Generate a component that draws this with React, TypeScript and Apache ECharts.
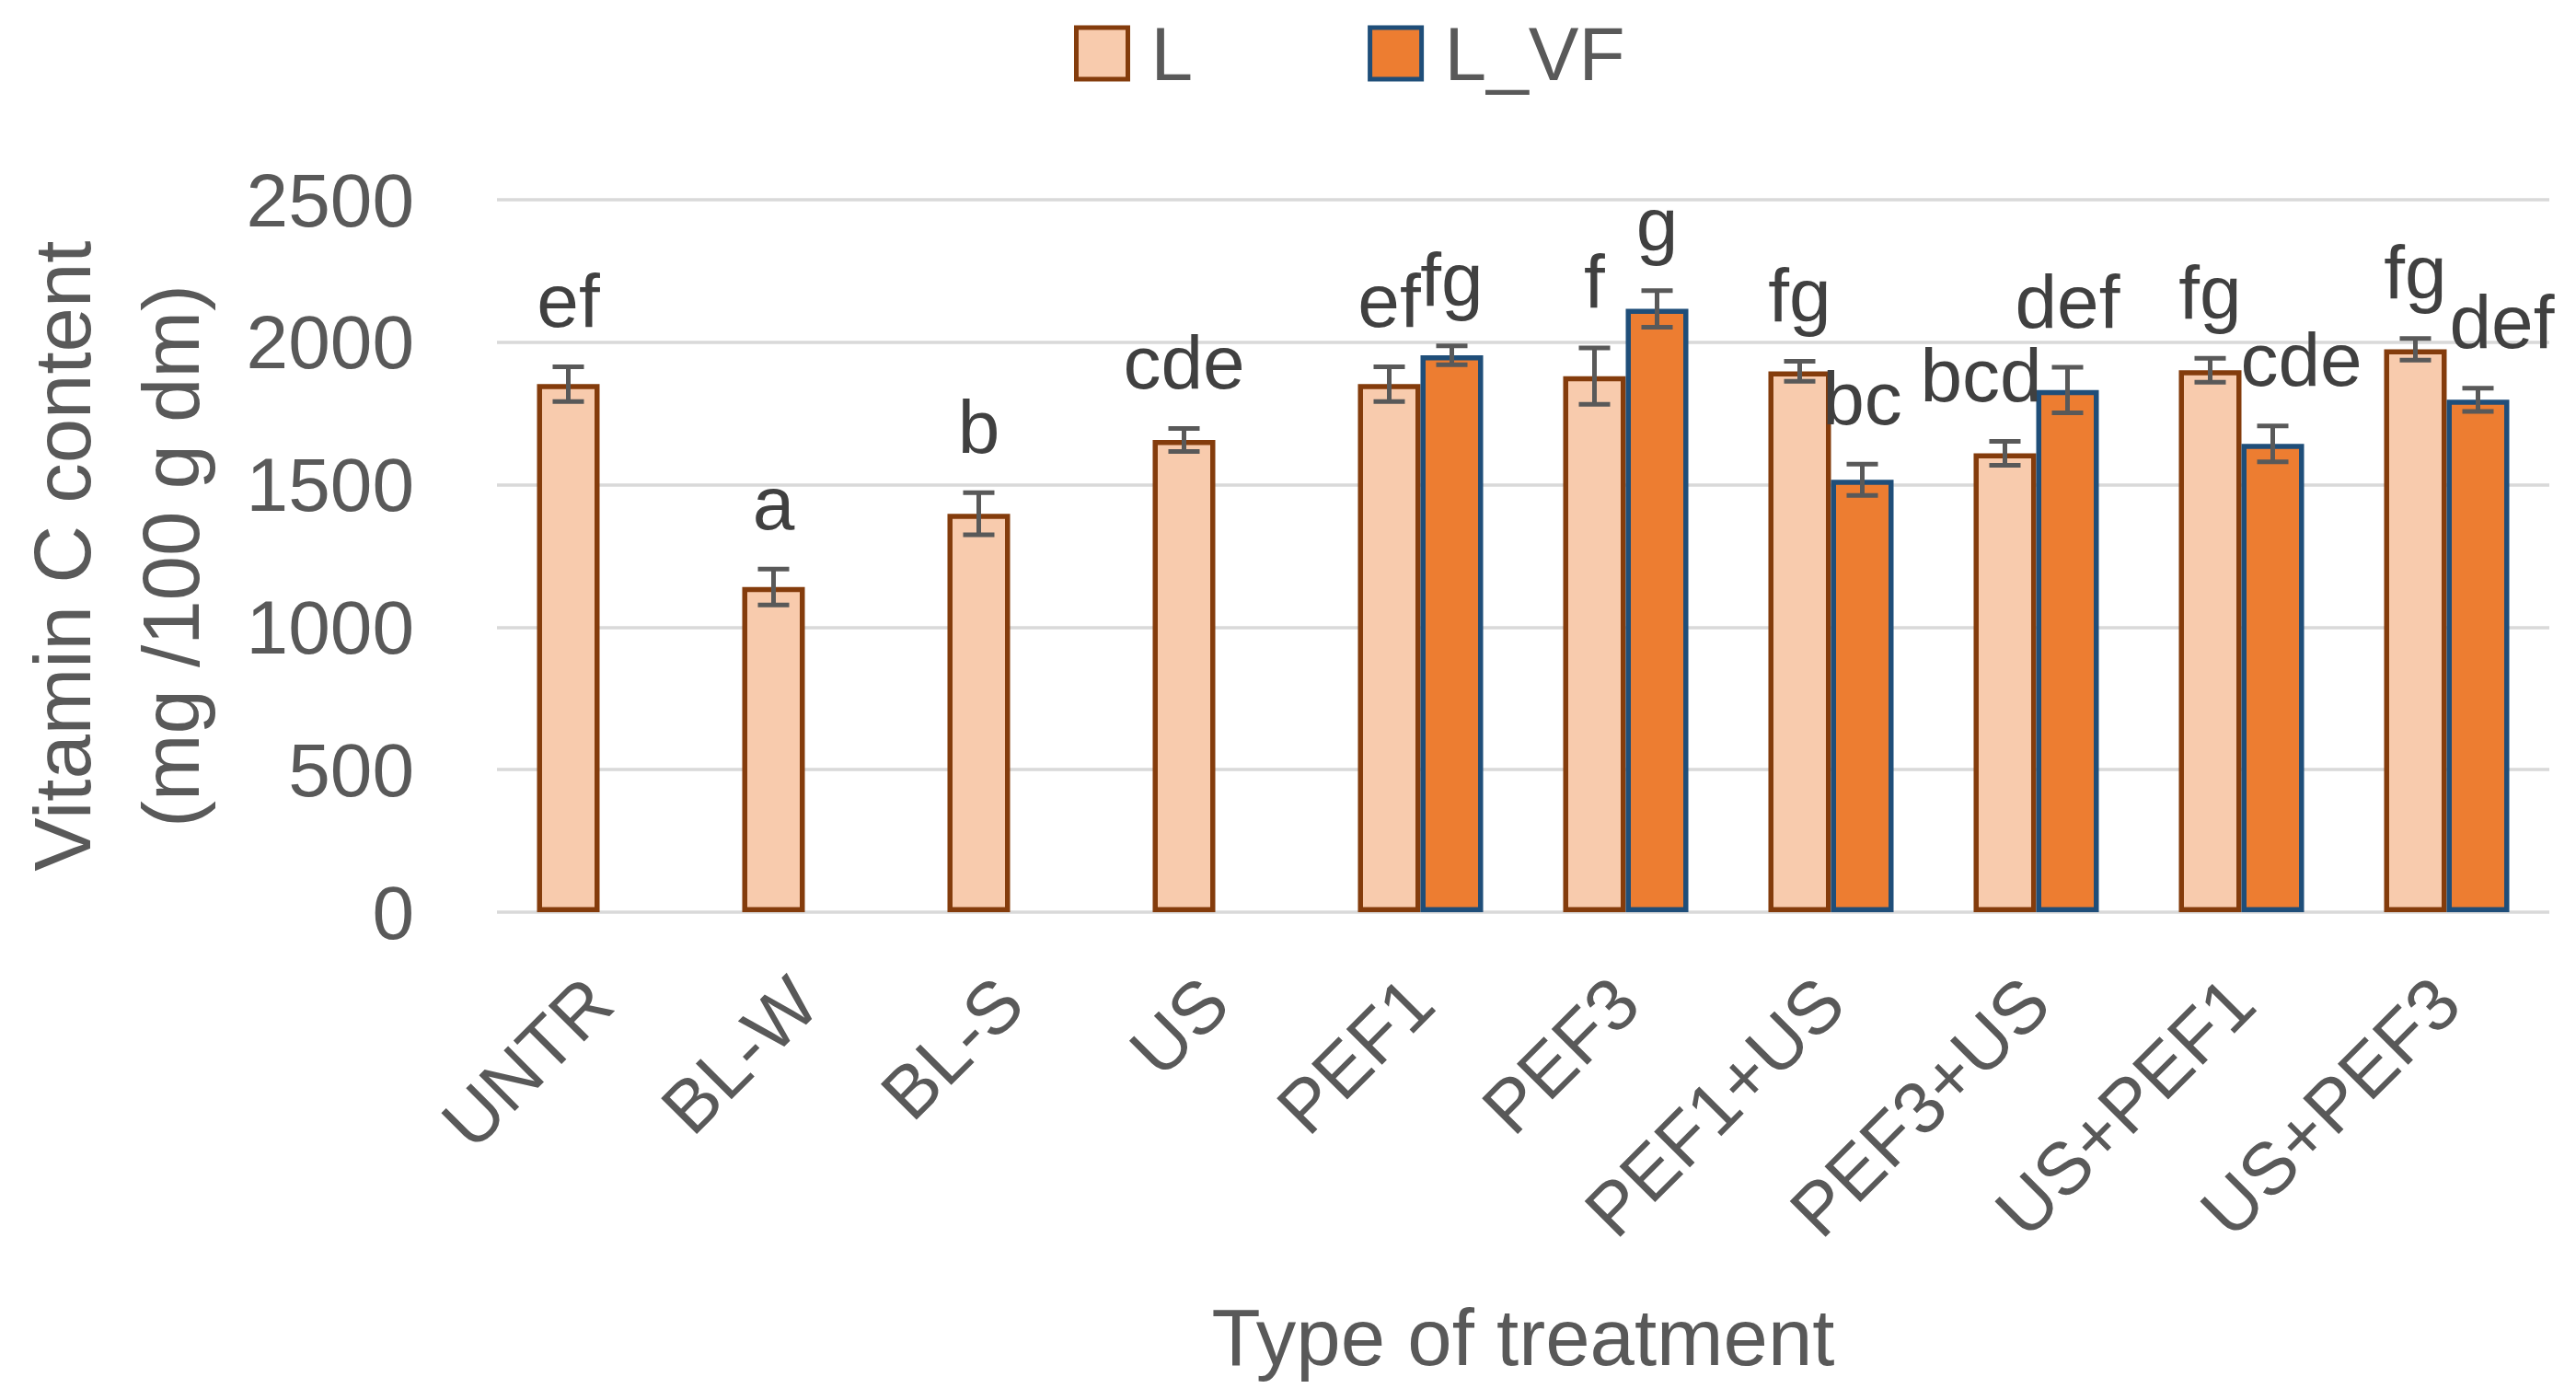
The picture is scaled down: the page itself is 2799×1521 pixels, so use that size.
import React, { useEffect, useRef } from "react";
import * as echarts from "echarts";

const categories = ["UNTR", "BL-W", "BL-S", "US", "PEF1", "PEF3", "PEF1+US", "PEF3+US", "US+PEF1", "US+PEF3"];
const valuesL = [1853, 1141, 1398, 1657, 1853, 1881, 1898, 1610, 1902, 1975];
const errorsL = [61, 63, 74, 40, 61, 99, 35, 42, 42, 38];
const lettersL = ["ef", "a", "b", "cde", "ef", "f", "fg", "bcd", "fg", "fg"];
const valuesVF = [null, null, null, null, 1954, 2117, 1517, 1832, 1643, 1798];
const errorsVF = [null, null, null, null, 33, 64, 55, 80, 63, 41];
const lettersVF = [null, null, null, null, "fg", "g", "bc", "def", "cde", "def"];
const yTicks = { min: 0, max: 2500, interval: 500 };

const FONT = "'Liberation Sans', Arial, sans-serif";
const GAP_RATIO = 0.39;
// small horizontal nudges of letter labels (px), as placed in the original figure
const nudgeL: Record<number, number> = { 7: -26 };
const nudgeVF: Record<number, number> = { 8: 31, 9: 26 };

function errorSeries(
  name: string,
  values: (number | null)[],
  errors: (number | null)[],
  letters: (string | null)[],
  side: number,
  nudge: Record<number, number>
) {
  const data: number[][] = [];
  const lab: string[] = [];
  const dx: number[] = [];
  values.forEach((v, i) => {
    if (v != null && errors[i] != null) {
      data.push([i, v, errors[i] as number]);
      lab.push(letters[i] || "");
      dx.push(nudge[i] || 0);
    }
  });
  return {
    type: "custom",
    name,
    z: 5,
    clip: false,
    silent: true,
    data,
    encode: { x: 0, y: 1 },
    renderItem: (params: any, api: any) => {
      const cat = api.value(0);
      const v = api.value(1);
      const e = api.value(2);
      const band = api.size([1, 0])[0];
      const bw = (band * (1 - GAP_RATIO)) / 2;
      const cx = api.coord([cat, v])[0] + (side * bw) / 2;
      const top = api.coord([cat, v + e])[1];
      const bot = api.coord([cat, v - e])[1];
      const cap = 17;
      const st = { stroke: "#595959", lineWidth: 5 };
      return {
        type: "group",
        children: [
          { type: "line", shape: { x1: cx, y1: top, x2: cx, y2: bot }, style: st },
          { type: "line", shape: { x1: cx - cap, y1: top, x2: cx + cap, y2: top }, style: st },
          { type: "line", shape: { x1: cx - cap, y1: bot, x2: cx + cap, y2: bot }, style: st },
          {
            type: "text",
            x: cx + dx[params.dataIndex],
            y: top - 72,
            style: {
              text: lab[params.dataIndex],
              fill: "#404040",
              fontSize: 82,
              fontFamily: FONT,
              align: "center",
              verticalAlign: "middle",
            },
          },
        ],
      };
    },
  };
}

export default function App() {
  const ref = useRef<HTMLDivElement>(null);
  useEffect(() => {
    if (!ref.current) return;
    const chart = echarts.init(ref.current, undefined, { renderer: "svg" });
    chart.setOption({
      animation: false,
      backgroundColor: "#ffffff",
      textStyle: { fontFamily: FONT },
      legend: {
        top: 12,
        left: 1162,
        itemWidth: 56,
        itemHeight: 56,
        itemGap: 190,
        icon: "rect",
        itemStyle: { borderWidth: 5 },
        textStyle: { fontSize: 82, color: "#595959", fontFamily: FONT, padding: [0, 0, 0, 20] },
        data: ["L", "L_VF"],
      },
      grid: { left: 540, right: 29, top: 217, bottom: 530, containLabel: false },
      xAxis: {
        type: "category",
        data: categories,
        axisLine: { show: false },
        axisTick: { show: false },
        axisLabel: {
          interval: 0,
          rotate: 45,
          margin: 85,
          fontSize: 80,
          color: "#595959",
          fontFamily: FONT,
        },
        name: "Type of treatment",
        nameLocation: "middle",
        nameGap: 418,
        nameTextStyle: { fontSize: 87, color: "#595959", fontFamily: FONT, lineHeight: 87 },
      },
      yAxis: {
        type: "value",
        min: yTicks.min,
        max: yTicks.max,
        interval: yTicks.interval,
        axisLine: { show: false },
        axisTick: { show: false },
        axisLabel: {
          fontSize: 82,
          color: "#595959",
          margin: 90,
          fontFamily: FONT,
          formatter: (v: number) => String(v),
        },
        splitLine: { lineStyle: { color: "#D9D9D9", width: 3.5 } },
        name: "Vitamin C content\n(mg /100 g dm)",
        nameLocation: "middle",
        nameRotate: 90,
        nameGap: 296,
        nameTextStyle: { fontSize: 87, color: "#595959", fontFamily: FONT, lineHeight: 118 },
      },
      series: [
        {
          type: "bar",
          name: "L",
          data: valuesL,
          barGap: "0%",
          barCategoryGap: `${GAP_RATIO * 100}%`,
          itemStyle: { color: "#F8CBAD", borderColor: "#843C0C", borderWidth: 5.5 },
        },
        {
          type: "bar",
          name: "L_VF",
          data: valuesVF,
          barGap: "0%",
          barCategoryGap: `${GAP_RATIO * 100}%`,
          itemStyle: { color: "#ED7D31", borderColor: "#1F4E79", borderWidth: 5.5 },
        },
        errorSeries("errL", valuesL, errorsL, lettersL, -1, nudgeL),
        errorSeries("errVF", valuesVF, errorsVF, lettersVF, 1, nudgeVF),
      ],
    });
    return () => chart.dispose();
  }, []);
  return (
    <div
      ref={ref}
      style={{ position: "fixed", left: 0, top: 0, width: "2799px", height: "1521px", background: "#fff" }}
    />
  );
}
